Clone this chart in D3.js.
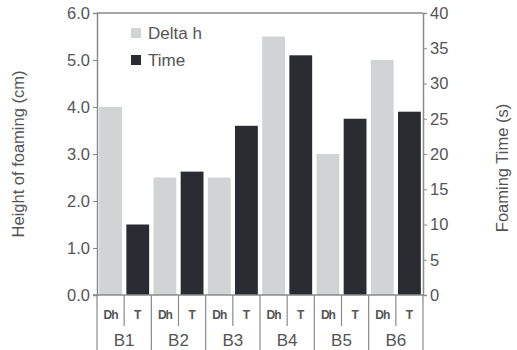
<!doctype html>
<html>
  <head>
    <meta charset="utf-8">
    <title>Foaming</title>
    <script src="https://d3js.org/d3.v7.min.js"></script>
    <style>
      body { margin: 0; background: #fff; }
      text { font-family: "Liberation Sans", Arial, sans-serif; fill: #555; }
    </style>
  </head>
  <body>
    <script>
      const groups = ['B1', 'B2', 'B3', 'B4', 'B5', 'B6'];
      const subLabels = ['Dh', 'T'];
      const deltaH = [4.0, 2.5, 2.5, 5.5, 3.0, 5.0];   // cm, left axis
      const time = [10, 17.5, 24, 34, 25, 26];          // s, right axis
      const leftTicks = [0, 1, 2, 3, 4, 5, 6];
      const rightTicks = [0, 5, 10, 15, 20, 25, 30, 35, 40];

      const width = 517, height = 350;
      const pad = { left: 97, right: 423, top: 13, bottom: 295 };

      const svg = d3.select('body').append('svg')
          .attr('width', width)
          .attr('height', height);

      // scales
      const xGroup = d3.scaleBand().domain(groups).range([pad.left, pad.right]);
      const xSub = d3.scaleBand().domain(subLabels).range([0, xGroup.bandwidth()]).paddingInner(0.16).paddingOuter(0.08);
      const yLeft = d3.scaleLinear().domain([0, 6]).range([pad.bottom, pad.top]);
      const yRight = d3.scaleLinear().domain([0, 40]).range([pad.bottom, pad.top]);

      // bars
      svg.append('g').selectAll('rect')
        .data(deltaH)
        .enter().append('rect')
          .attr('x', (d, i) => xGroup(groups[i]) + xSub('Dh'))
          .attr('y', d => yLeft(d))
          .attr('width', xSub.bandwidth())
          .attr('height', d => pad.bottom - yLeft(d))
          .attr('fill', '#d2d3d5');

      svg.append('g').selectAll('rect')
        .data(time)
        .enter().append('rect')
          .attr('x', (d, i) => xGroup(groups[i]) + xSub('T'))
          .attr('y', d => yRight(d))
          .attr('width', xSub.bandwidth())
          .attr('height', d => pad.bottom - yRight(d))
          .attr('fill', '#2b2c31');

      // axes
      const axisColor = '#8a8a8a';
      const gl = svg.append('g')
          .attr('transform', `translate(${pad.left},0)`)
          .call(d3.axisLeft(yLeft).tickValues(leftTicks).tickFormat(d3.format('.1f')).tickSize(4).tickPadding(3));
      const gr = svg.append('g')
          .attr('transform', `translate(${pad.right},0)`)
          .call(d3.axisRight(yRight).tickValues(rightTicks).tickSize(4).tickPadding(3));
      [gl, gr].forEach(g => {
        g.select('.domain').attr('stroke', axisColor).attr('stroke-width', 1.5);
        g.selectAll('.tick line').attr('stroke', axisColor);
        g.selectAll('.tick text').attr('font-size', 16.5).attr('fill', '#555')
          .attr('font-family', '"Liberation Sans", Arial, sans-serif');
      });

      // frame top + baseline
      svg.append('line').attr('x1', pad.left).attr('x2', pad.right).attr('y1', pad.top).attr('y2', pad.top)
          .attr('stroke', axisColor).attr('stroke-width', 1.5);
      svg.append('line').attr('x1', pad.left - 4).attr('x2', pad.right).attr('y1', pad.bottom).attr('y2', pad.bottom)
          .attr('stroke', axisColor).attr('stroke-width', 1.5);

      // category table below the axis
      const gt = svg.append('g');
      groups.forEach(g => {
        const x0 = xGroup(g);
        gt.append('line').attr('x1', x0).attr('x2', x0).attr('y1', pad.bottom).attr('y2', height)
            .attr('stroke', axisColor).attr('stroke-width', 1.2);
        const mid = x0 + xGroup.bandwidth() / 2;
        gt.append('line').attr('x1', mid).attr('x2', mid).attr('y1', pad.bottom).attr('y2', 326)
            .attr('stroke', axisColor).attr('stroke-width', 1.2);
        subLabels.forEach(s => {
          gt.append('text')
              .attr('x', x0 + xSub(s) + xSub.bandwidth() / 2)
              .attr('y', 319)
              .attr('text-anchor', 'middle')
              .attr('font-size', 12)
              .attr('font-weight', 'bold')
              .attr('letter-spacing', s === 'Dh' ? -1 : 0)
              .text(s);
        });
        gt.append('text')
            .attr('x', mid)
            .attr('y', 346)
            .attr('text-anchor', 'middle')
            .attr('font-size', 17)
            .text(g);
      });
      gt.append('line').attr('x1', pad.right).attr('x2', pad.right).attr('y1', pad.bottom).attr('y2', height)
          .attr('stroke', axisColor).attr('stroke-width', 1.2);

      // legend
      const legend = [['Delta h', '#d2d3d5'], ['Time', '#2b2c31']];
      legend.forEach((d, i) => {
        const y = 33 + i * 27;
        svg.append('rect').attr('x', 131).attr('y', y - 5).attr('width', 10).attr('height', 10).attr('fill', d[1]);
        svg.append('text').attr('x', 148).attr('y', y + 6).attr('font-size', 17).attr('fill', '#444').text(d[0]);
      });

      // axis titles
      svg.append('text')
          .attr('transform', 'translate(24,154) rotate(-90)')
          .attr('text-anchor', 'middle')
          .attr('font-size', 16.5)
          .text('Height of foaming (cm)');
      svg.append('text')
          .attr('transform', 'translate(508,168) rotate(-90)')
          .attr('text-anchor', 'middle')
          .attr('font-size', 16.5)
          .text('Foaming Time (s)');
    </script>
  </body>
</html>
